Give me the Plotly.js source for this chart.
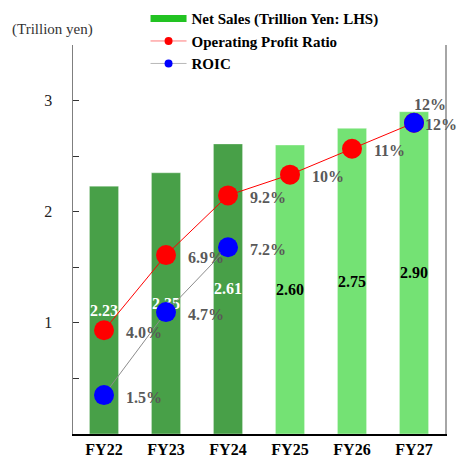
<!DOCTYPE html>
<html>
<head>
<meta charset="utf-8">
<script src="https://cdn.plot.ly/plotly-3.0.1.min.js"></script>
<style>html,body{margin:0;padding:0;background:#fff;}#chart{width:458px;height:460px;}</style>
</head>
<body>
<div id="chart"></div>
<script>
const categories = ['FY22', 'FY23', 'FY24', 'FY25', 'FY26', 'FY27'];
const netSales = [2.23, 2.35, 2.61, 2.60, 2.75, 2.90];
const opRatio = [4.0, 6.9, 9.2, 10, 11, 12];
const opRatioLabels = ['4.0%', '6.9%', '9.2%', '10%', '11%', '12%'];
const roic = [1.5, 4.7, 7.2, null, null, 12];
const roicLabels = ['1.5%', '4.7%', '7.2%', '', '', '12%'];
const isActual = [true, true, true, false, false, false];
const yTickVals = [0.5, 1, 1.5, 2, 2.5, 3, 3.5];
const yTickText = ['', '1', '', '2', '', '3', ''];

const SERIF = '"Liberation Serif", "Times New Roman", serif';
const darkGreen = '#48a048';
const lightGreen = '#74e274';
const labelFont = {family: SERIF, size: 16, weight: 'bold', color: '#595959'};

const traces = [
  {
    type: 'bar', x: categories, y: netSales,
    text: netSales.map(v => v.toFixed(2)),
    textposition: 'inside', insidetextanchor: 'middle', textangle: 0, constraintext: 'none',
    textfont: {family: SERIF, size: 16, weight: 'bold', color: isActual.map(a => a ? '#ffffff' : '#000000')},
    marker: {color: isActual.map(a => a ? darkGreen : lightGreen), line: {color: 'rgba(255,255,255,0.35)', width: 1}},
    showlegend: false, hoverinfo: 'skip'
  },
  {
    type: 'scatter', mode: 'lines+markers', x: categories, y: opRatio, yaxis: 'y2',
    line: {color: '#ff0000', width: 1},
    marker: {color: '#ff0000', size: 20},
    cliponaxis: false, showlegend: false
  },
  {
    type: 'scatter', mode: 'lines+markers', x: categories, y: roic, yaxis: 'y2',
    connectgaps: false,
    line: {color: '#8c8c8c', width: 1},
    marker: {color: '#0000ff', size: 20},
    cliponaxis: false, showlegend: false
  },
  // legend-only entries
  {type: 'scatter', mode: 'lines', x: [null], y: [null], name: 'Net Sales (Trillion Yen: LHS)',
   line: {color: '#22c322', width: 7}},
  {type: 'scatter', mode: 'lines+markers', x: [null], y: [null], name: 'Operating Profit Ratio',
   line: {color: '#ff7a7a', width: 1}, marker: {color: '#ff0000', size: 8}},
  {type: 'scatter', mode: 'lines+markers', x: [null], y: [null], name: 'ROIC',
   line: {color: '#b8b8b8', width: 1}, marker: {color: '#0000ff', size: 8}}
];

const annotations = [
  {xref: 'paper', yref: 'paper', x: -0.17, y: 1.012, xanchor: 'left', yanchor: 'bottom',
   text: '(Trillion yen)', showarrow: false, font: {family: SERIF, size: 15, color: '#333'}}
];
categories.forEach((c, i) => {
  const last = i === categories.length - 1;
  annotations.push({
    x: c, y: opRatio[i], xref: 'x', yref: 'y2', text: opRatioLabels[i], showarrow: false,
    xanchor: 'left', yanchor: 'middle', xshift: last ? -2 : 20, yshift: last ? 18 : -2, font: labelFont
  });
  if (roic[i] !== null) {
    annotations.push({
      x: c, y: roic[i], xref: 'x', yref: 'y2', text: roicLabels[i], showarrow: false,
      xanchor: 'left', yanchor: 'middle', xshift: last ? 9 : 20, yshift: -2, font: labelFont
    });
  }
});

const layout = {
  width: 458, height: 460,
  margin: {l: 73, r: 13, t: 45, b: 26, autoexpand: false},
  paper_bgcolor: '#ffffff', plot_bgcolor: '#ffffff',
  font: {family: SERIF, color: '#000'},
  bargap: 0.53,
  showlegend: true,
  legend: {
    x: 0.195, xanchor: 'left', y: 1.11, yanchor: 'top',
    bgcolor: 'rgba(0,0,0,0)', font: {family: SERIF, size: 15, weight: 'bold', color: '#000'},
    tracegroupgap: 0, itemwidth: 36
  },
  xaxis: {
    type: 'category', range: [-0.5, 5.5], showline: true, linecolor: '#000', linewidth: 1.5,
    ticks: '', showgrid: false, zeroline: false, fixedrange: true,
    tickfont: {family: SERIF, size: 16, weight: 'bold', color: '#000'}
  },
  yaxis: {
    range: [0, 3.5], tickvals: yTickVals, ticktext: yTickText,
    ticks: 'inside', ticklen: 6, tickcolor: '#333', tickwidth: 1,
    showline: true, linecolor: '#7f7f7f', linewidth: 1.5,
    showgrid: false, zeroline: false, ticklabelstandoff: 16,
    tickfont: {family: SERIF, size: 16, color: '#222'}
  },
  yaxis2: {
    overlaying: 'y', side: 'right', range: [0, 15],
    showline: true, linecolor: '#a6a6a6', linewidth: 1.5,
    showticklabels: false, ticks: '', showgrid: false, zeroline: false
  },
  annotations: annotations
};

Plotly.newPlot('chart', traces, layout, {displayModeBar: false, staticPlot: true});
</script>
</body>
</html>
